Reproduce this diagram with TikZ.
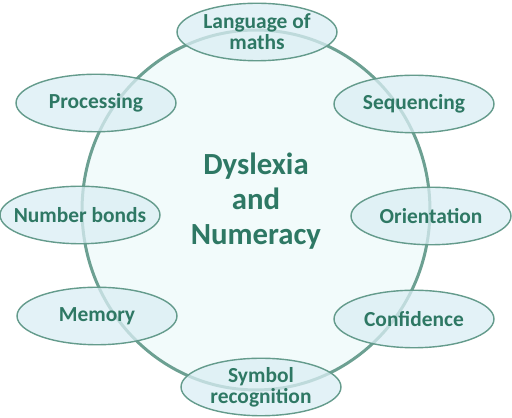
\documentclass[tikz,border=0pt]{standalone}
\usepackage{fontspec}
\setmainfont{Carlito}
\usepackage{xcolor}
\usetikzlibrary{shapes.geometric}

\definecolor{leafgreen}{RGB}{46,120,100}
\definecolor{ringline}{RGB}{108,160,146}
\definecolor{ringfill}{RGB}{242,251,251}
\definecolor{bubbleline}{RGB}{100,155,140}
\definecolor{bubblefill}{RGB}{218,238,244}

\begin{document}
\begin{tikzpicture}[x=0.02cm, y=-0.02cm,
  hub/.style={ellipse, draw=ringline, fill=ringfill, line width=1.7pt, minimum width=6.96cm, minimum height=7.2cm, inner sep=0pt},
  bubble/.style={ellipse, draw=bubbleline, fill=bubblefill, fill opacity=0.75,
    line width=0.8pt, minimum width=3.2cm, minimum height=1.15cm, inner sep=0pt},
  bubbletext/.style={align=center, text=leafgreen, text opacity=1, inner sep=0pt,
    font=\fontsize{12.2}{12}\selectfont\bfseries}]
  \useasboundingbox (0,0) rectangle (512,418);

	\node[hub] (hub) at (256,210) {};
	\node[align=center, text=leafgreen, font=\fontsize{17.5}{20}\selectfont\bfseries] (title) at (256,201) {Dyslexia\\and\\Numeracy};

	\foreach \Pos/\Name/\Text in {(257,32)/lang/{Language of\\maths}, (96,103)/proc/Processing,
		(414,104)/seq/Sequencing, (80,215)/bonds/Number bonds, (431,216)/orient/Orientation,
		(97,316)/mem/Memory, (414,319)/conf/Confidence, (261,387)/sym/{Symbol\\recognition}}{
		\node[bubble] (\Name) at \Pos {};
		\node[bubbletext] (\Name-text) at (\Name.center) {\Text};
	};

\end{tikzpicture}
\end{document}
